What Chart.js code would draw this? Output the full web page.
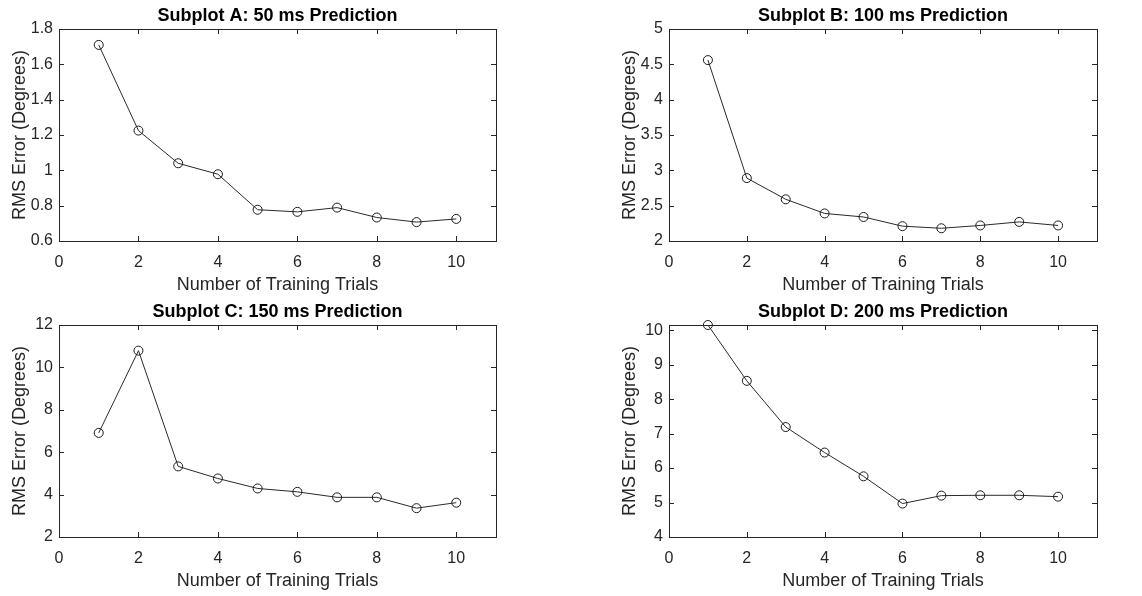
<!DOCTYPE html>
<html>
<head>
<meta charset="utf-8">
<script src="https://cdn.jsdelivr.net/npm/chart.js@4"></script>
<style>
  body { margin: 0; background: #fff; width: 1142px; height: 596px; position: relative; overflow: hidden; }
  canvas { position: absolute; }
</style>
</head>
<body>
<canvas id="chartA" width="571" height="296" style="left:0;top:0"></canvas>
<canvas id="chartB" width="571" height="296" style="left:571px;top:0"></canvas>
<canvas id="chartC" width="571" height="296" style="left:0;top:296px"></canvas>
<canvas id="chartD" width="571" height="296" style="left:571px;top:296px"></canvas>
<script>
const trials = [1, 2, 3, 4, 5, 6, 7, 8, 9, 10];
const rmsA = [1.71, 1.225, 1.04, 0.978, 0.777, 0.765, 0.789, 0.733, 0.707, 0.725];
const rmsB = [4.56, 2.89, 2.59, 2.39, 2.34, 2.21, 2.18, 2.22, 2.27, 2.22];
const rmsC = [6.91, 10.79, 5.33, 4.76, 4.29, 4.13, 3.87, 3.87, 3.36, 3.62];
const rmsD = [10.15, 8.53, 7.19, 6.45, 5.76, 4.97, 5.2, 5.21, 5.21, 5.17];

const xTicks = [0, 2, 4, 6, 8, 10];
const yTicksA = [0.6, 0.8, 1, 1.2, 1.4, 1.6, 1.8];
const yTicksB = [2, 2.5, 3, 3.5, 4, 4.5, 5];
const yTicksC = [2, 4, 6, 8, 10, 12];
const yTicksD = [4, 5, 6, 7, 8, 9, 10];

const FONT = '"Liberation Sans", Arial, Helvetica, sans-serif';
const AXIS_COLOR = '#262626';

// MATLAB style box with inward ticks on all four sides
const boxTicks = {
    id: 'boxTicks',
    afterDraw(chart) {
        const ctx = chart.ctx;
        const a = chart.chartArea;
        const len = 5;
        ctx.save();
        ctx.strokeStyle = AXIS_COLOR;
        ctx.lineWidth = 1;
        ctx.beginPath();
        chart.scales.x.ticks.forEach(t => {
            const px = Math.round(chart.scales.x.getPixelForValue(t.value)) + 0.5;
            ctx.moveTo(px, a.bottom); ctx.lineTo(px, a.bottom - len);
            ctx.moveTo(px, a.top); ctx.lineTo(px, a.top + len);
        });
        chart.scales.y.ticks.forEach(t => {
            const py = Math.round(chart.scales.y.getPixelForValue(t.value)) + 0.5;
            ctx.moveTo(a.left, py); ctx.lineTo(a.left + len, py);
            ctx.moveTo(a.right, py); ctx.lineTo(a.right - len, py);
        });
        ctx.stroke();
        ctx.strokeRect(Math.round(a.left) + 0.5, Math.round(a.top) + 0.5,
            Math.round(a.right - a.left), Math.round(a.bottom - a.top));
        ctx.restore();
    }
};

function makeChart(id, title, values, yTicks, yMin, yMax, padLeft, padRight) {
    const ctx = document.getElementById(id).getContext('2d');
    return new Chart(ctx, {
        type: 'line',
        data: {
            datasets: [{
                data: trials.map((t, i) => ({ x: t, y: values[i] })),
                borderColor: '#2a2a2a',
                borderWidth: 1,
                pointStyle: 'circle',
                pointRadius: 4.5,
                pointBorderWidth: 1,
                pointBorderColor: '#1a1a1a',
                pointBackgroundColor: 'rgba(0,0,0,0)',
                tension: 0,
                clip: false
            }]
        },
        options: {
            responsive: false,
            animation: false,
            layout: { padding: { left: padLeft, right: padRight, top: 0, bottom: 0 } },
            plugins: {
                legend: { display: false },
                tooltip: { enabled: false },
                title: {
                    display: true,
                    text: title,
                    fullSize: false,
                    color: '#000',
                    font: { family: FONT, size: 18, weight: 'bold' },
                    padding: { top: 5, bottom: 2.4 }
                }
            },
            scales: {
                x: {
                    type: 'linear',
                    min: 0,
                    max: 11,
                    afterBuildTicks: s => { s.ticks = xTicks.map(v => ({ value: v })); },
                    afterFit: s => { s.height = 55; },
                    grid: { display: false, drawTicks: false },
                    border: { display: false },
                    ticks: {
                        color: AXIS_COLOR,
                        font: { family: FONT, size: 16 },
                        padding: 12,
                        maxRotation: 0
                    },
                    title: {
                        display: true,
                        text: 'Number of Training Trials',
                        color: AXIS_COLOR,
                        font: { family: FONT, size: 18 },
                        padding: { top: 0, bottom: 0 }
                    }
                },
                y: {
                    type: 'linear',
                    min: yMin,
                    max: yMax,
                    afterBuildTicks: s => { s.ticks = yTicks.map(v => ({ value: v })); },
                    afterFit: s => { s.width = 59; },
                    grid: { display: false, drawTicks: false },
                    border: { display: false },
                    ticks: {
                        color: AXIS_COLOR,
                        font: { family: FONT, size: 16 },
                        padding: 6,
                        callback: v => String(Math.round(v * 10) / 10)
                    },
                    title: {
                        display: true,
                        text: 'RMS Error (Degrees)',
                        color: AXIS_COLOR,
                        font: { family: FONT, size: 18 },
                        padding: { top: 9, bottom: 0 }
                    }
                }
            }
        },
        plugins: [boxTicks]
    });
}

makeChart('chartA', 'Subplot A: 50 ms Prediction', rmsA, yTicksA, 0.6, 1.8, 0, 75);
makeChart('chartB', 'Subplot B: 100 ms Prediction', rmsB, yTicksB, 2, 5, 39, 45);
makeChart('chartC', 'Subplot C: 150 ms Prediction', rmsC, yTicksC, 2, 12, 0, 75);
makeChart('chartD', 'Subplot D: 200 ms Prediction', rmsD, yTicksD, 4, 10.15, 39, 45);
</script>
</body>
</html>
